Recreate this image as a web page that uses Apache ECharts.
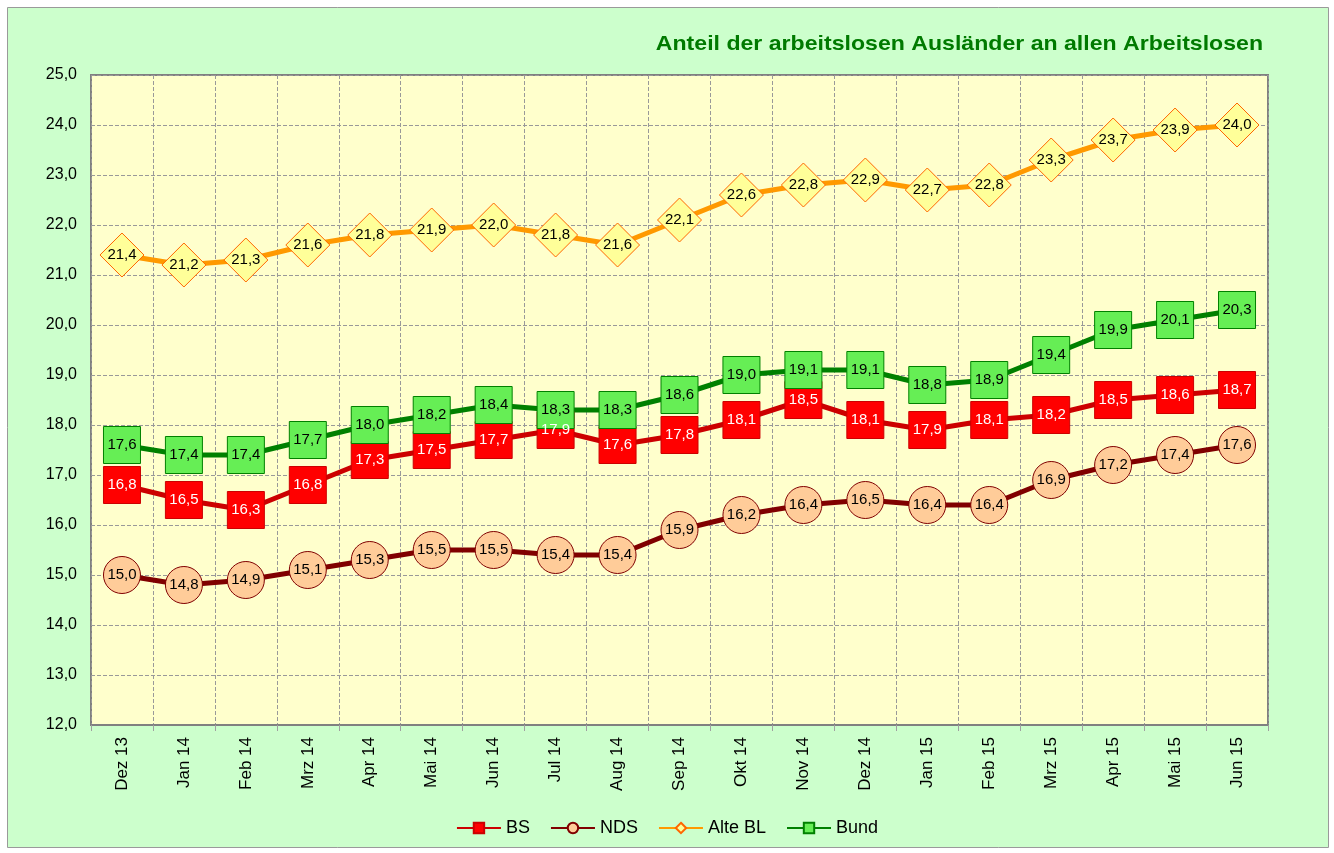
<!DOCTYPE html>
<html>
<head>
<meta charset="utf-8">
<script src="https://cdn.jsdelivr.net/npm/echarts@6/dist/echarts.min.js"></script>
<style>
    html,body{margin:0;padding:0;background:#fff;}
    #chart{width:1334px;height:853px;}
</style>
</head>
<body>
<div id="chart"></div>
<script>
    // Monate
    var months = ['Dez 13','Jan 14','Feb 14','Mrz 14','Apr 14','Mai 14','Jun 14','Jul 14','Aug 14','Sep 14',
        'Okt 14','Nov 14','Dez 14','Jan 15','Feb 15','Mrz 15','Apr 15','Mai 15','Jun 15'];
    // Anteile in %
    var bs = [16.8,16.5,16.3,16.8,17.3,17.5,17.7,17.9,17.6,17.8,18.1,18.5,18.1,17.9,18.1,18.2,18.5,18.6,18.7];
    var nds = [15.0,14.8,14.9,15.1,15.3,15.5,15.5,15.4,15.4,15.9,16.2,16.4,16.5,16.4,16.4,16.9,17.2,17.4,17.6];
    var alteBL = [21.4,21.2,21.3,21.6,21.8,21.9,22.0,21.8,21.6,22.1,22.6,22.8,22.9,22.7,22.8,23.3,23.7,23.9,24.0];
    var bund = [17.6,17.4,17.4,17.7,18.0,18.2,18.4,18.3,18.3,18.6,19.0,19.1,19.1,18.8,18.9,19.4,19.9,20.1,20.3];

    function komma(v){
        return Number(v).toFixed(1).replace('.', ',');
    }

    function makeSeries(name, data, lineColor, fill, border, symbol, size, labelColor){
        return {
            name: name,
            type: 'line',
            data: data,
            symbol: symbol,
            symbolSize: size,
            showAllSymbol: true,
            lineStyle: {color: lineColor, width: 5},
            itemStyle: {color: fill, borderColor: border, borderWidth: 1},
            label: {
                show: true,
                position: 'inside',
                color: labelColor,
                fontSize: 15,
                fontFamily: 'Liberation Sans, Arial',
                formatter: function(p){ return komma(p.value); }
            },
            emphasis: {disabled: true},
            animation: false
        };
    }

    var myChart = echarts.init(document.getElementById('chart'));
    var option = {
        backgroundColor: '#ffffff',
        textStyle: {fontFamily: 'Liberation Sans, Arial'},
        graphic: [{
            type: 'rect',
            z: -10,
            shape: {x: 7.5, y: 7.5, width: 1321, height: 840},
            style: {fill: '#CCFFCC', stroke: '#9a9a9a', lineWidth: 1}
        }, {
            // Titel, etwas breit gezogen wie im Original
            type: 'text',
            x: 1263,
            y: 44,
            scaleX: 1.1,
            style: {
                text: 'Anteil der arbeitslosen Ausländer an allen Arbeitslosen',
                fill: '#007A00',
                font: 'bold 21px "Liberation Sans", Arial',
                align: 'right',
                verticalAlign: 'middle'
            }
        }],
        legend: {
            bottom: 11,
            left: 'center',
            itemWidth: 44,
            itemHeight: 13,
            itemGap: 20,
            textStyle: {fontSize: 18, color: '#000'},
            data: ['BS','NDS','Alte BL','Bund']
        },
        grid: {
            left: 91, top: 75, width: 1177, height: 650,
            show: true,
            backgroundColor: '#FFFFCC',
            borderColor: '#808080',
            borderWidth: 2,
            containLabel: false
        },
        xAxis: {
            type: 'category',
            data: months,
            boundaryGap: true,
            axisLine: {lineStyle: {color: '#808080', width: 2}},
            axisTick: {show: true, length: 6, lineStyle: {color: '#a0a0a0'}},
            axisLabel: {rotate: 90, fontSize: 17, color: '#000', margin: 12, interval: 0},
            splitLine: {show: true, lineStyle: {color: '#999', type: [4, 2], width: 1}}
        },
        yAxis: {
            type: 'value',
            min: 12, max: 25, interval: 1,
            axisLine: {show: false},
            axisTick: {show: false},
            axisLabel: {fontSize: 16, color: '#000', margin: 14, formatter: komma},
            splitLine: {show: true, lineStyle: {color: '#999', type: [4, 2], width: 1}}
        },
        series: [
            makeSeries('BS', bs, '#CC0000', '#FF0000', '#CC0000', 'rect', 37, '#ffffff'),
            makeSeries('NDS', nds, '#800000', '#FFCC99', '#800000', 'circle', 37, '#000000'),
            makeSeries('Alte BL', alteBL, '#FF9900', '#FFFF99', '#FF6600', 'diamond', [44, 44], '#000000'),
            makeSeries('Bund', bund, '#008000', '#66EE55', '#008000', 'rect', 37, '#000000')
        ]
    };
    myChart.setOption(option);
</script>
</body>
</html>
